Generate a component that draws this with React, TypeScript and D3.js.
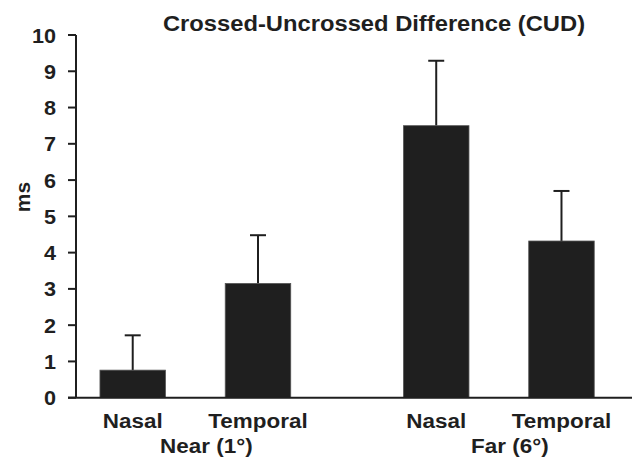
import React from "react";
import * as d3 from "d3";

const groups = ["Near (1°)", "Far (6°)"];
const sides = ["Nasal", "Temporal"];
const nearMeans = [0.76, 3.15];
const nearErrs = [1.72, 4.48];
const farMeans = [7.5, 4.32];
const farErrs = [9.29, 5.7];
const yTicks = [0, 1, 2, 3, 4, 5, 6, 7, 8, 9, 10];
const title = "Crossed-Uncrossed Difference (CUD)";
const yLabel = "ms";

const W = 632;
const H = 463;
const FONT = "'Liberation Sans', Arial, sans-serif";

function Label({ x, y, children, size = 21, sx = 1.07, anchor = "middle" }: any) {
  return (
    <text
      transform={`translate(${x},${y}) scale(${sx},1)`}
      textAnchor={anchor}
      fontFamily={FONT}
      fontWeight="bold"
      fontSize={size}
      fill="#1f1f1f"
    >
      {children}
    </text>
  );
}

export default function App() {
  const y = d3.scaleLinear().domain([0, 10]).range([397.7, 35]);
  const xOuter = d3.scaleBand<string>().domain(groups).range([43.6, 650.6]).paddingInner(0).paddingOuter(0);
  const xInner = d3
    .scaleBand<string>()
    .domain(sides)
    .range([0, xOuter.bandwidth()])
    .paddingInner(0.477)
    .paddingOuter(0.45);

  const data = [
    { g: groups[0], means: nearMeans, errs: nearErrs },
    { g: groups[1], means: farMeans, errs: farErrs },
  ];
  const axisX = 76;
  const color = "#1f1f1f";
  const capHalf = 8;

  return (
    <svg width={W} height={H} style={{ position: "absolute", left: 0, top: 0, background: "#fff" }}>
      <rect width={W} height={H} fill="#fff" />
      <Label x={374} y={31} size={22} sx={1.08}>
        {title}
      </Label>
      {data.map((d) =>
        sides.map((s, i) => {
          const x0 = (xOuter(d.g) ?? 0) + (xInner(s) ?? 0);
          const bw = xInner.bandwidth();
          const cx = x0 + bw / 2;
          return (
            <g key={d.g + s}>
              <line x1={cx} x2={cx} y1={y(d.means[i])} y2={y(d.errs[i])} stroke={color} strokeWidth={2} />
              <line x1={cx - capHalf} x2={cx + capHalf} y1={y(d.errs[i])} y2={y(d.errs[i])} stroke={color} strokeWidth={2} />
              <rect x={x0} y={y(d.means[i])} width={bw} height={y(0) - y(d.means[i])} fill={color} stroke="#555" strokeWidth={0.8} />
              <Label x={cx} y={428}>
                {s}
              </Label>
            </g>
          );
        })
      )}
      {groups.map((g) => (
        <Label key={g} x={(xOuter(g) ?? 0) + xOuter.bandwidth() / 2 + 11} y={453}>
          {g}
        </Label>
      ))}
      <line x1={axisX} x2={axisX} y1={y(10)} y2={y(0)} stroke={color} strokeWidth={2} />
      {yTicks.map((t) => (
        <g key={t}>
          <line x1={axisX - 8} x2={axisX} y1={y(t)} y2={y(t)} stroke={color} strokeWidth={2} />
          <Label x={56} y={y(t) + 7.5} anchor="end" sx={1.03}>
            {t}
          </Label>
        </g>
      ))}
      <line x1={axisX - 8} x2={W} y1={y(0)} y2={y(0)} stroke={color} strokeWidth={2} />
      <text transform={`translate(29.5,197) rotate(-90)`} textAnchor="middle" fontFamily={FONT} fontWeight="bold" fontSize={21} fill={color}>
        {yLabel}
      </text>
    </svg>
  );
}
